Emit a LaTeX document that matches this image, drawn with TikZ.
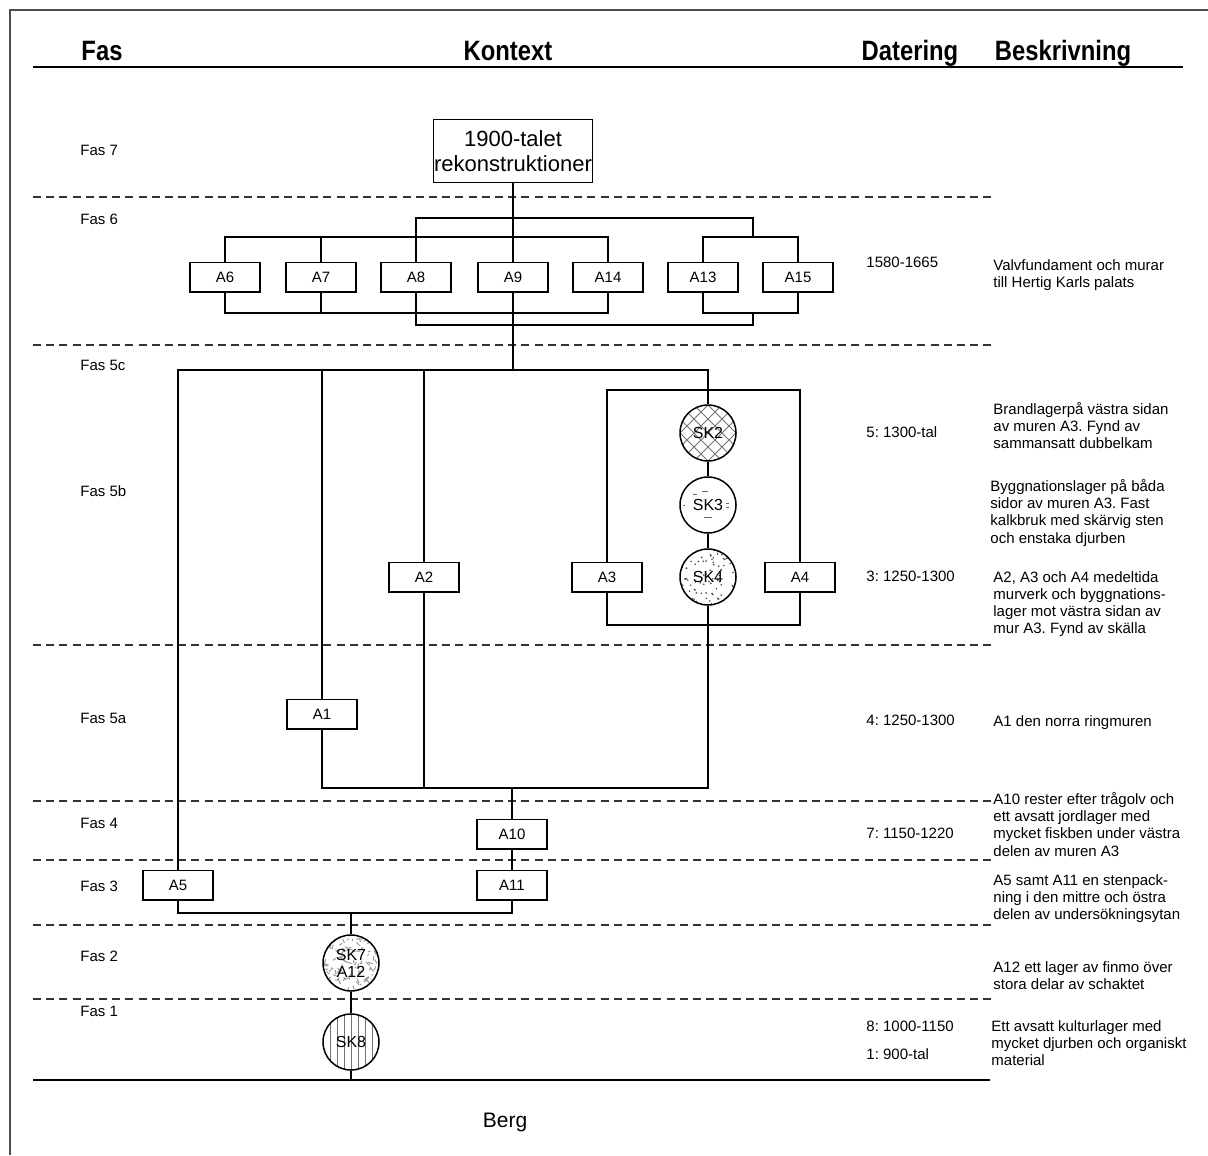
\documentclass[tikz,border=0pt]{standalone}
\usepackage{fontspec}
\setmainfont{Liberation Sans}
\newfontfamily\hdrfont[FakeStretch=0.85]{Liberation Sans}
\usetikzlibrary{calc}
\frenchspacing
\begin{document}
\begin{tikzpicture}[x=0.5pt,y=-0.5pt,
  box/.style={draw,line width=0.75pt,minimum width=35pt,minimum height=14.75pt,inner sep=0pt,font=\fontsize{7.5}{9}\selectfont},
  disc/.style={draw,circle,line width=0.75pt,minimum size=28pt,inner sep=0pt,font=\fontsize{8}{8.6}\selectfont,align=center},
  conn/.style={line width=0.75pt},
  phaseline/.style={dash pattern=on 4pt off 2.6pt,line width=0.9pt,black!80},
  fas/.style={anchor=west,inner sep=0pt,font=\fontsize{7.5}{9}\selectfont},
  dat/.style={anchor=west,inner sep=0pt,font=\fontsize{7.5}{9}\selectfont},
  desc/.style={anchor=north west,inner sep=0pt,align=left,font=\fontsize{7.5}{8.6}\selectfont},
  hdr/.style={anchor=base,inner sep=0pt,font=\hdrfont\bfseries\fontsize{14}{16}\selectfont},
  hatch/.style={black!55,line width=0.4pt}
]
\useasboundingbox (0,0) rectangle (1208,1155);
% frame
\draw[line width=0.6pt,black!70] (10,1155) -- (10,10) -- (1208,10);
% header
\node[hdr] (hFas) at (102,61) {Fas};
\node[hdr] (hKon) at (508,61) {Kontext};
\node[hdr] (hDat) at (910,61) {Datering};
\node[hdr] (hBes) at (1063,61) {Beskrivning};
\draw[line width=1pt] (33,67) -- (1183,67);
% phase lines
\foreach \yy in {197,345,645,801,860,925,999} {
  \draw[phaseline] (33,\yy) -- (992,\yy);
}
\draw[line width=1pt] (33,1080) -- (990,1080);
% phase labels
\node[fas] (f7) at (80,150) {Fas 7};
\node[fas] (f6) at (80,219) {Fas 6};
\node[fas] (f5c) at (80,365) {Fas 5c};
\node[fas] (f5b) at (80,491) {Fas 5b};
\node[fas] (f5a) at (80,718) {Fas 5a};
\node[fas] (f4) at (80,823) {Fas 4};
\node[fas] (f3) at (80,886) {Fas 3};
\node[fas] (f2) at (80,956) {Fas 2};
\node[fas] (f1) at (80,1011) {Fas 1};
% dates
\node[dat] (d1) at (866,262) {1580-1665};
\node[dat] (d2) at (866,432) {5: 1300-tal};
\node[dat] (d3) at (866,576) {3: 1250-1300};
\node[dat] (d4) at (866,720) {4: 1250-1300};
\node[dat] (d5) at (866,833) {7: 1150-1220};
\node[dat] (d6) at (866,1026) {8: 1000-1150};
\node[dat] (d7) at (866,1054) {1: 900-tal};
% descriptions
\node[desc] (t1) at (993,259) {Valvfundament och murar\\till Hertig Karls palats};
\node[desc] (t2) at (993,402) {Brandlagerpå västra sidan\\av muren A3. Fynd av\\sammansatt dubbelkam};
\node[desc] (t3) at (990,479) {Byggnationslager på båda\\sidor av muren A3. Fast\\kalkbruk med skärvig sten\\och enstaka djurben};
\node[desc] (t4) at (993,571) {A2, A3 och A4 medeltida\\murverk och byggnations-\\lager mot västra sidan av\\mur A3. Fynd av skälla};
\node[desc] (t5) at (993,715) {A1 den norra ringmuren};
\node[desc] (t6) at (993,792) {A10 rester efter trågolv och\\ett avsatt jordlager med\\mycket fiskben under västra\\delen av muren A3};
\node[desc] (t7) at (993,874) {A5 samt A11 en stenpack-\\ning i den mittre och östra\\delen av undersökningsytan};
\node[desc] (t8) at (993,961) {A12 ett lager av finmo över\\stora delar av schaktet};
\node[desc] (t9) at (991,1020) {Ett avsatt kulturlager med\\mycket djurben och organiskt\\material};
\node[inner sep=0pt,anchor=base,font=\fontsize{10.5}{12}\selectfont] (berglbl) at (505,1127) {Berg};
% top box
\node[draw,line width=0.75pt,minimum width=79.5pt,minimum height=31.5pt,inner sep=0pt,align=center,font=\fontsize{11}{12.5}\selectfont] (top) at (513,151) {1900-talet\\rekonstruktioner};
% Fas 6 boxes
\node[box] (A6) at (225,277) {A6};
\node[box] (A7) at (321,277) {A7};
\node[box] (A8) at (416,277) {A8};
\node[box] (A9) at (513,277) {A9};
\node[box] (A14) at (608,277) {A14};
\node[box] (A13) at (703,277) {A13};
\node[box] (A15) at (798,277) {A15};
% other boxes
\node[box] (A2) at (424,577) {A2};
\node[box] (A3) at (607,577) {A3};
\node[box] (A4) at (800,577) {A4};
\node[box] (A1) at (322,714) {A1};
\node[box] (A10) at (512,834) {A10};
\node[box] (A11) at (512,885) {A11};
\node[box] (A5) at (178,885) {A5};
% circle fills
\begin{scope}
  \clip (708,433) circle (28);
  \foreach \d in {-84,-70,...,84} {
    \draw[hatch] (708+\d-40,433-40) -- ++(80,80);
    \draw[hatch] (708+\d+40,433-40) -- ++(-80,80);
  }
\end{scope}
\begin{scope}
  \clip (708,577) circle (28);
  \pgfmathsetseed{7}
  \foreach \i in {1,...,80} {
    \fill[black!70] (708+27*rand,577+27*rand) circle (0.9);
  }
\end{scope}
\begin{scope}[black!60,line width=0.4pt]
  \draw (693,494) -- (697,494);
  \draw (702,491) -- (708,491);
  \draw (704,517) -- (712,517);
  \draw (726,503) -- (729,503);
  \draw (726,507) -- (729,507);
  \draw (683,505) -- (685,505);
\end{scope}
\begin{scope}
  \clip (351,963) circle (28);
  \pgfmathsetseed{11}
  \foreach \i in {1,...,110} {
    \draw[black!40,line width=0.5pt] (351+27*rand,963+27*rand) -- ++(5*rand,5*rand);
  }
\end{scope}
\begin{scope}
  \clip (351,1042) circle (28);
  \foreach \d in {-21,-14,...,21} {
    \draw[hatch] (351+\d,1010) -- (351+\d,1074);
  }
\end{scope}
% circles
\node[disc] (SK2) at (708,433) {SK2};
\node[disc] (SK3) at (708,505) {SK3};
\node[disc] (SK4) at (708,577) {SK4};
\node[disc] (SK7) at (351,963) {SK7\\A12};
\node[disc] (SK8) at (351,1042) {SK8};
% junction coordinates
\coordinate (ubR) at (753,218);
\coordinate (ubR2) at (753,237);
\coordinate (ltb) at (225,237);
\coordinate (lbb) at (225,313);
\coordinate (llb) at (753,325);
\coordinate (b5c) at (178,370);
\coordinate (rtop) at (607,390);
\coordinate (rbot) at (607,625);
\coordinate (b5a) at (322,788);
\coordinate (b3) at (178,913);
\coordinate (berg) at (351,1080);
% connectors Fas 6
\draw[conn] (top.south) -- (A9.north);
\draw[conn] (A8.north) -- (A8.north |- ubR) -- (ubR) -- (ubR2);
\draw[conn] (A13.north) -- (A13.north |- ubR2) -- (A15.north |- ubR2) -- (A15.north);
\draw[conn] (A6.north) -- (A6.north |- ltb) -- (A14.north |- ltb) -- (A14.north);
\draw[conn] (A7.north) -- (A7.north |- ltb);
\draw[conn] (A6.south) -- (A6.south |- lbb) -- (A14.south |- lbb) -- (A14.south);
\draw[conn] (A7.south) -- (A7.south |- lbb);
\draw[conn] (A13.south) -- (A13.south |- lbb) -- (A15.south |- lbb) -- (A15.south);
\draw[conn] (A8.south) -- (A8.south |- llb) -- (llb) -- (llb |- lbb);
% Fas 5
\draw[conn] (A9.south) -- (A9.south |- b5c);
\draw[conn] (A5.north) -- (A5.north |- b5c) -- (SK2.north |- b5c) -- (SK2.north);
\draw[conn] (A1.north) -- (A1.north |- b5c);
\draw[conn] (A2.north) -- (A2.north |- b5c);
\draw[conn] (A3.north) -- (A3.north |- rtop) -- (A4.north |- rtop) -- (A4.north);
\draw[conn] (A3.south) -- (A3.south |- rbot) -- (A4.south |- rbot) -- (A4.south);
\draw[conn] (SK2.south) -- (SK3.north);
\draw[conn] (SK3.south) -- (SK4.north);
\draw[conn] (A1.south) -- (A1.south |- b5a) -- (SK4.south |- b5a) -- (SK4.south);
\draw[conn] (A2.south) -- (A2.south |- b5a);
\draw[conn] (A10.north |- b5a) -- (A10.north);
\draw[conn] (A10.south) -- (A11.north);
% Fas 3 - 1
\draw[conn] (A5.south) -- (A5.south |- b3) -- (A11.south |- b3) -- (A11.south);
\draw[conn] (SK7.north |- b3) -- (SK7.north);
\draw[conn] (SK7.south) -- (SK8.north);
\draw[conn] (SK8.south) -- (berg);
\end{tikzpicture}
\end{document}
